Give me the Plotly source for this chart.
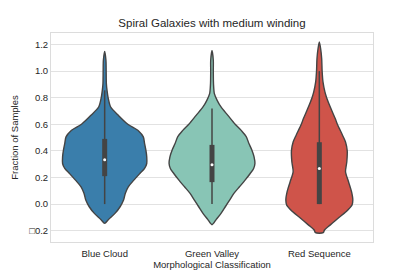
import plotly.graph_objects as go

categories = ["Blue Cloud", "Green Valley", "Red Sequence"]
fill_colors = ["#3a7eab", "#88c5b5", "#cf544a"]

# Violin density profiles (relative to widest violin)
blue_y = [1.148, 1.08, 1.0, 0.905, 0.855, 0.8, 0.73, 0.667, 0.6, 0.55, 0.505, 0.455,
          0.405, 0.355, 0.305, 0.268, 0.23, 0.18, 0.13, 0.08, 0.03, -0.02, -0.07, -0.115, -0.145]
blue_density = [0.0, 0.03, 0.035, 0.04, 0.055, 0.08, 0.14, 0.32, 0.54, 0.79, 0.90, 0.93,
                0.96, 0.98, 0.98, 0.93, 0.82, 0.68, 0.55, 0.48, 0.44, 0.36, 0.24, 0.09, 0.0]

green_y = [1.155, 1.08, 1.0, 0.905, 0.83, 0.78, 0.73, 0.667, 0.6, 0.55, 0.505, 0.455,
           0.405, 0.355, 0.305, 0.268, 0.23, 0.18, 0.13, 0.08, 0.03, -0.02, -0.07, -0.115, -0.155]
green_density = [0.0, 0.03, 0.03, 0.035, 0.055, 0.12, 0.21, 0.37, 0.54, 0.69, 0.80, 0.86,
                 0.93, 0.98, 1.0, 0.97, 0.89, 0.77, 0.64, 0.51, 0.41, 0.31, 0.21, 0.10, 0.0]

red_y = [1.218, 1.168, 1.093, 1.0, 0.918, 0.843, 0.8, 0.718, 0.643, 0.6, 0.518, 0.467,
         0.4, 0.318, 0.243, 0.168, 0.093, 0.03, -0.008, -0.058, -0.108, -0.158, -0.195, -0.215]
red_density = [0.0, 0.03, 0.055, 0.065, 0.085, 0.13, 0.17, 0.27, 0.37, 0.42, 0.54, 0.61,
               0.65, 0.64, 0.61, 0.68, 0.75, 0.78, 0.76, 0.62, 0.43, 0.25, 0.12, 0.09]

profiles_y = [blue_y, green_y, red_y]
profiles_d = [blue_density, green_density, red_density]

# Box statistics
whisker_low = [0.0, 0.0, 0.0]
q1 = [0.21, 0.165, 0.0]
median = [0.333, 0.295, 0.268]
q3 = [0.49, 0.445, 0.465]
whisker_high = [0.855, 0.718, 1.0]

tick_vals = [-0.2, 0.0, 0.2, 0.4, 0.6, 0.8, 1.0, 1.2]
tick_text = ["\u25a10.2", "0.0", "0.2", "0.4", "0.6", "0.8", "1.0", "1.2"]

HALF = 0.4
EDGE = "#444444"

fig = go.Figure()
for i, (ys, ds) in enumerate(zip(profiles_y, profiles_d)):
    pts = []
    for y, d in zip(ys[::-1], ds[::-1]):
        pts.append((i + HALF * d, y))
    for y, d in zip(ys, ds):
        pts.append((i - HALF * d, y))
    clean = []
    for p in pts:
        if not clean or abs(clean[-1][0] - p[0]) > 1e-9 or abs(clean[-1][1] - p[1]) > 1e-9:
            clean.append(p)
    if abs(clean[-1][0] - clean[0][0]) > 1e-9 or abs(clean[-1][1] - clean[0][1]) > 1e-9:
        clean.append(clean[0])
    fig.add_trace(go.Scatter(
        x=[p[0] for p in clean], y=[p[1] for p in clean],
        mode="lines", fill="toself", fillcolor=fill_colors[i],
        line=dict(color=EDGE, width=1.4, shape="spline", smoothing=0.8),
        hoverinfo="skip", showlegend=False))
    fig.add_trace(go.Scatter(
        x=[i, i], y=[whisker_low[i], whisker_high[i]], mode="lines",
        line=dict(color=EDGE, width=1.5), showlegend=False, hoverinfo="skip"))
    fig.add_trace(go.Scatter(
        x=[i, i], y=[q1[i], q3[i]], mode="lines",
        line=dict(color=EDGE, width=5), showlegend=False, hoverinfo="skip"))
    fig.add_trace(go.Scatter(
        x=[i], y=[median[i]], mode="markers",
        marker=dict(color="white", size=3, line=dict(width=0)),
        showlegend=False, hoverinfo="skip"))

FONT = "Liberation Sans, Arial, sans-serif"
W, H = 407, 269
fig.update_layout(
    width=W, height=H,
    margin=dict(l=43, r=42, t=25, b=35),
    paper_bgcolor="white", plot_bgcolor="white",
    font=dict(family=FONT, color="#262626", size=10),
    title=dict(text="Spiral Galaxies with medium winding", x=(43 + (W - 42)) / 2 / W, xanchor="center",
               y=1 - 15 / H, yanchor="middle", font=dict(size=11.5, color="#262626")),
    xaxis=dict(range=[-0.5, 2.5], tickvals=[0, 1, 2], ticktext=categories,
               showgrid=False, zeroline=False, showline=True, mirror=True,
               linecolor="#dcdcdc", linewidth=1, ticks="", ticklabelstandoff=3,
               tickfont=dict(size=9.5), automargin=False,
               title=dict(text="Morphological Classification", font=dict(size=9.5), standoff=2)),
    yaxis=dict(range=[-0.285, 1.286], tickvals=tick_vals, ticktext=tick_text,
               showgrid=True, gridcolor="#e2e2e2", gridwidth=1, zeroline=False,
               showline=True, mirror=True, linecolor="#dcdcdc", linewidth=1, ticks="",
               tickfont=dict(size=9.5), automargin=False,
               title=dict(text="Fraction of Samples", font=dict(size=9.5), standoff=8)),
)

fig.write_html("out.html")
